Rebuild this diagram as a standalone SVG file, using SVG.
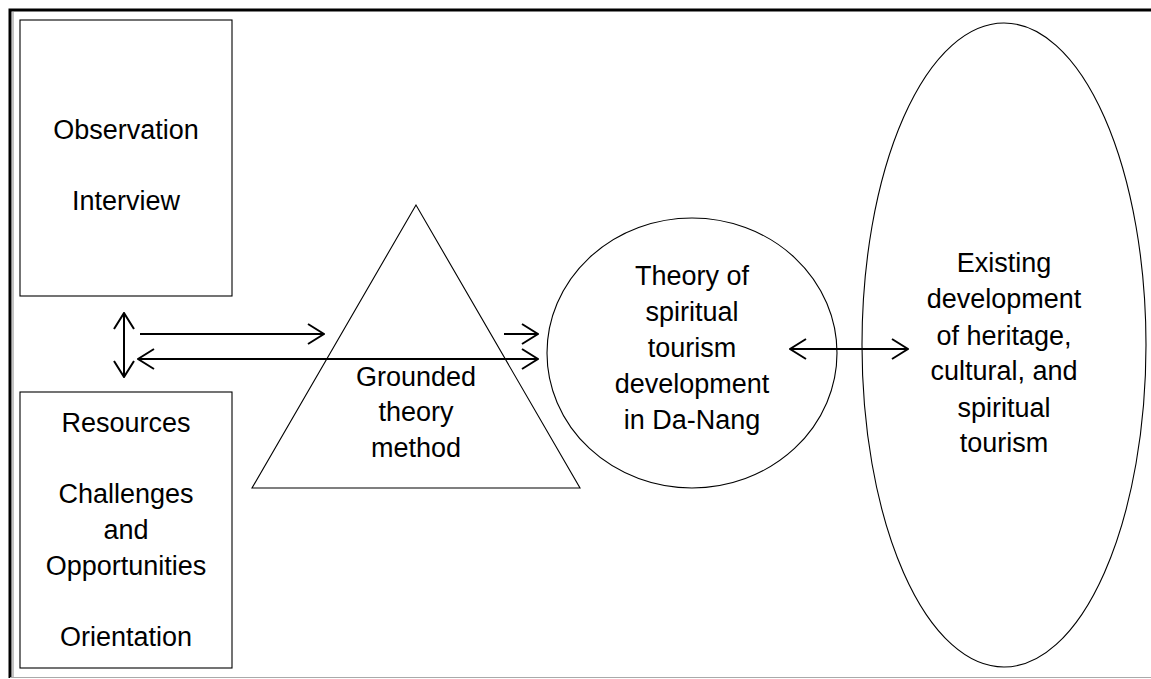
<svg xmlns="http://www.w3.org/2000/svg" width="1151" height="679" viewBox="0 0 1151 679">
<style>
.shape{fill:#fff;stroke:#000;stroke-width:1.1}
.t{font-family:"Liberation Sans",Arial,sans-serif;font-size:27px;fill:#000;text-anchor:middle}
.c{fill:none;stroke:#000;stroke-width:2}
</style>
<defs>
<marker id="ah" viewBox="0 0 18 22" refX="17" refY="11" markerWidth="18" markerHeight="22" markerUnits="userSpaceOnUse" orient="auto-start-reverse">
<path d="M1,1 L17,11 L1,21" fill="none" stroke="#000" stroke-width="2"/>
</marker>
</defs>
<rect width="1151" height="679" fill="#fff"/>
<g id="frame">
<path d="M10,678 V10 H1151" fill="none" stroke="#000" stroke-width="3"/>
<line x1="13" y1="12" x2="13" y2="677" stroke="#888" stroke-width="1"/>
<line x1="10" y1="677.5" x2="1151" y2="677.5" stroke="#aaa" stroke-width="1"/>
</g>
<g id="methods-box">
<rect class="shape" x="20" y="20" width="212" height="276"/>
<text class="t" x="126" y="139">Observation</text>
<text class="t" x="126" y="210">Interview</text>
</g>
<g id="factors-box">
<rect class="shape" x="20" y="392" width="212" height="276"/>
<text class="t" x="126" y="432">Resources</text>
<text class="t" x="126" y="503">Challenges</text>
<text class="t" x="126" y="539">and</text>
<text class="t" x="126" y="575">Opportunities</text>
<text class="t" x="126" y="646">Orientation</text>
</g>
<g id="grounded-theory">
<polygon class="shape" points="416,205 252,488 580,488"/>
<text class="t" x="416" y="386">Grounded</text>
<text class="t" x="416" y="421">theory</text>
<text class="t" x="416" y="457">method</text>
</g>
<g id="theory-circle">
<ellipse class="shape" cx="692" cy="353" rx="145" ry="135"/>
<text class="t" x="692" y="285">Theory of</text>
<text class="t" x="692" y="321">spiritual</text>
<text class="t" x="692" y="357">tourism</text>
<text class="t" x="692" y="393">development</text>
<text class="t" x="692" y="429">in Da-Nang</text>
</g>
<g id="existing-ellipse">
<ellipse class="shape" cx="1004" cy="345" rx="142" ry="322"/>
<text class="t" x="1004" y="272">Existing</text>
<text class="t" x="1004" y="308">development</text>
<text class="t" x="1004" y="345">of heritage,</text>
<text class="t" x="1004" y="380">cultural, and</text>
<text class="t" x="1004" y="417">spiritual</text>
<text class="t" x="1004" y="452">tourism</text>
</g>
<g id="connectors">
<line class="c" x1="124" y1="313" x2="124" y2="377" marker-start="url(#ah)" marker-end="url(#ah)"/>
<line class="c" x1="140" y1="334" x2="324" y2="334" marker-end="url(#ah)"/>
<line class="c" x1="504" y1="334" x2="538" y2="334" marker-end="url(#ah)"/>
<line class="c" x1="138" y1="359" x2="538" y2="359" marker-start="url(#ah)" marker-end="url(#ah)"/>
<line class="c" x1="790" y1="349" x2="908" y2="349" marker-start="url(#ah)" marker-end="url(#ah)"/>
</g>
</svg>
